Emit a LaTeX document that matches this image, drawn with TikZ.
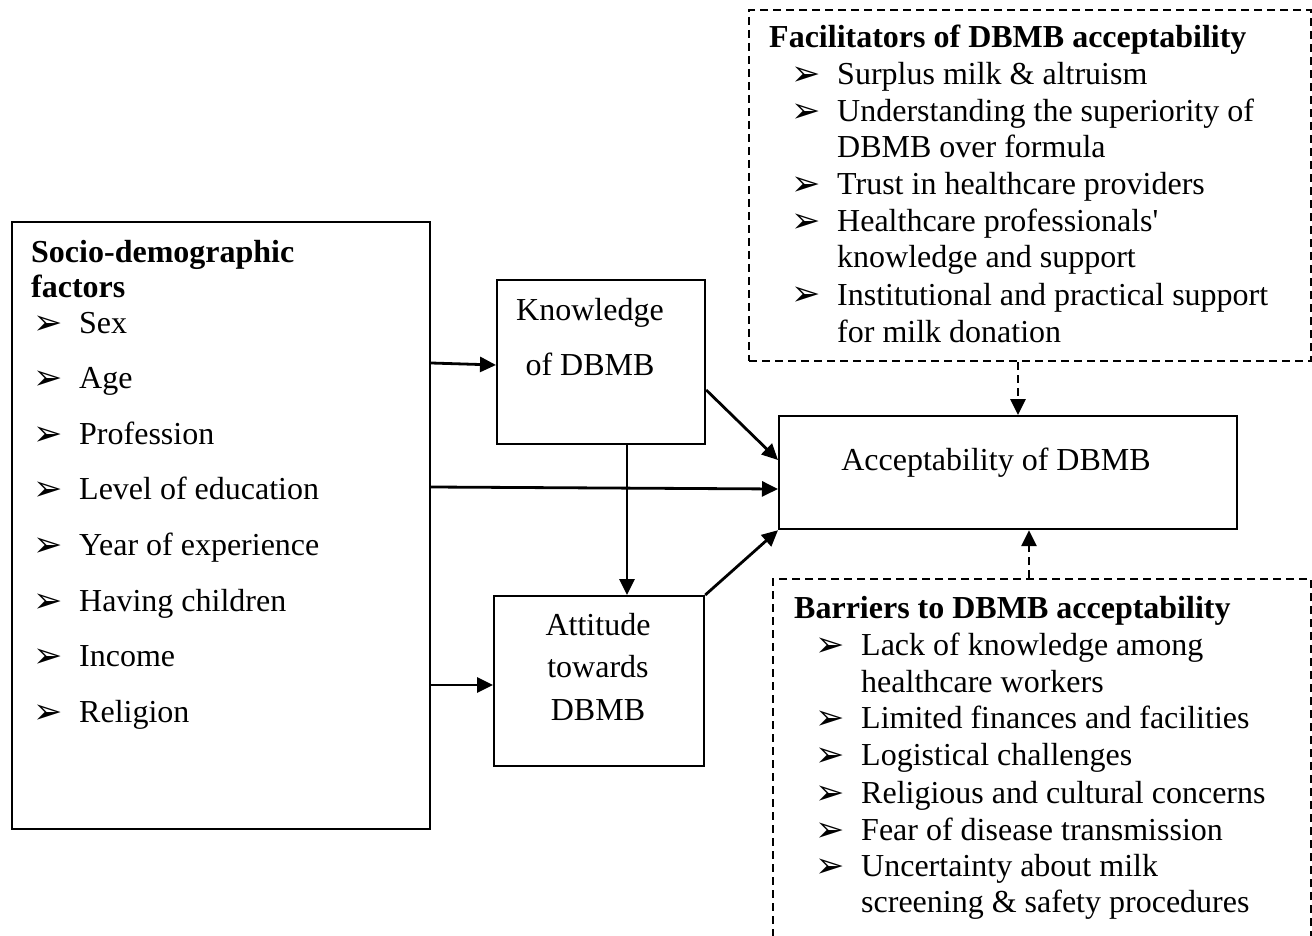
\documentclass[tikz,border=0pt]{standalone}
\usepackage{fontspec}
\setmainfont{Liberation Serif}[Ligatures=TeXOff]
\newfontfamily\dejavu{DejaVu Sans}
\usetikzlibrary{arrows.meta}
\newcommand{\bul}{\makebox[46pt][l]{\smash{\raisebox{-1pt}{\dejavu\fontsize{35}{35}\selectfont ➢}}}}
\begin{document}
\begin{tikzpicture}[x=1pt,y=-1pt,
  box/.style={draw, line width=2.2pt, inner sep=0pt, anchor=north west},
  dbox/.style={draw, line width=2pt, dash pattern=on 8pt off 5pt, inner sep=0pt, anchor=north west},
  txt/.style={inner sep=0pt, anchor=base west, font=\fontsize{32}{37}\selectfont},
  btxt/.style={txt, font=\fontsize{32}{37}\selectfont\bfseries},
  ctxt/.style={inner sep=0pt, anchor=base, font=\fontsize{32}{37}\selectfont},
  arr/.style={line width=2.8pt, -{Triangle[length=16pt,width=15pt]}},
  darr/.style={arr, dash pattern=on 8pt off 5pt}]
\useasboundingbox (0,0) rectangle (1312,936);
\clip (0,0) rectangle (1312,936);

% boxes
\node[box, minimum width=418pt, minimum height=607pt] (L) at (11,221) {};
\node[box, minimum width=208pt, minimum height=164pt] (K) at (496,279) {};
\node[box, minimum width=210pt, minimum height=170pt] (T) at (493,595) {};
\node[box, minimum width=458pt, minimum height=113pt] (A) at (778,415) {};
\node[dbox, minimum width=562pt, minimum height=351pt] (F) at (748,9) {};
\node[dbox, minimum width=538pt, minimum height=420pt] (B) at (772,578) {};

% left box text
\node[btxt] (l0) at (31,262) {Socio-demographic};
\node[btxt] (l00) at (31,297) {factors};
\node[txt] (l1) at (33,333) {\bul Sex};
\node[txt] (l2) at (33,388.6) {\bul Age};
\node[txt] (l3) at (33,444.2) {\bul Profession};
\node[txt] (l4) at (33,499.8) {\bul Level of education};
\node[txt] (l5) at (33,555.4) {\bul Year of experience};
\node[txt] (l6) at (33,611) {\bul Having children};
\node[txt] (l7) at (33,666.6) {\bul Income};
\node[txt] (l8) at (33,722.2) {\bul Religion};

% knowledge / attitude / acceptability text
\node[ctxt] (k1) at (590,320) {Knowledge};
\node[ctxt] (k2) at (590,375) {of DBMB};
\node[ctxt] (t1) at (598,635) {Attitude};
\node[ctxt] (t2) at (598,677) {towards};
\node[ctxt] (t3) at (598,720) {DBMB};
\node[ctxt] (a1) at (996,470) {Acceptability of DBMB};

% facilitators
\node[btxt] (f0) at (769,48) {Facilitators of DBMB acceptability};
\node[txt] (f1) at (791,85) {\bul Surplus milk \& altruism};
\node[txt] (f2) at (791,122) {\bul Understanding the superiority of};
\node[txt] (f2b) at (837,158) {DBMB over formula};
\node[txt] (f3) at (791,195) {\bul Trust in healthcare providers};
\node[txt] (f4) at (791,232) {\bul Healthcare professionals'};
\node[txt] (f4b) at (837,268) {knowledge and support};
\node[txt] (f5) at (791,305) {\bul Institutional and practical support};
\node[txt] (f5b) at (837,342) {for milk donation};

% barriers
\node[btxt] (b0) at (794,618) {Barriers to DBMB acceptability};
\node[txt] (b1) at (815,655) {\bul Lack of knowledge among};
\node[txt] (b1b) at (861,692) {healthcare workers};
\node[txt] (b2) at (815,728) {\bul Limited finances and facilities};
\node[txt] (b3) at (815,765) {\bul Logistical challenges};
\node[txt] (b4) at (815,803) {\bul Religious and cultural concerns};
\node[txt] (b5) at (815,840) {\bul Fear of disease transmission};
\node[txt] (b6) at (815,876) {\bul Uncertainty about milk};
\node[txt] (b6b) at (861,912) {screening \& safety procedures};

% connectors
\draw[arr] (L.east |- 0,363) -- (K.west |- 0,365);
\draw[arr] (L.east |- 0,487) -- (A.west |- 0,489);
\draw[arr] (L.east |- 0,685) -- (T.west |- 0,685);
\draw[arr] (K.east |- 0,390) -- (A.west |- 0,460);
\draw[arr] (K.south -| 627,0) -- (T.north -| 627,0);
\draw[arr] (T.north east) -- (A.south west);
\draw[darr] (F.south -| 1018,0) -- (A.north -| 1018,0);
\draw[darr] (B.north -| 1029,0) -- (A.south -| 1029,0);
\end{tikzpicture}
\end{document}
